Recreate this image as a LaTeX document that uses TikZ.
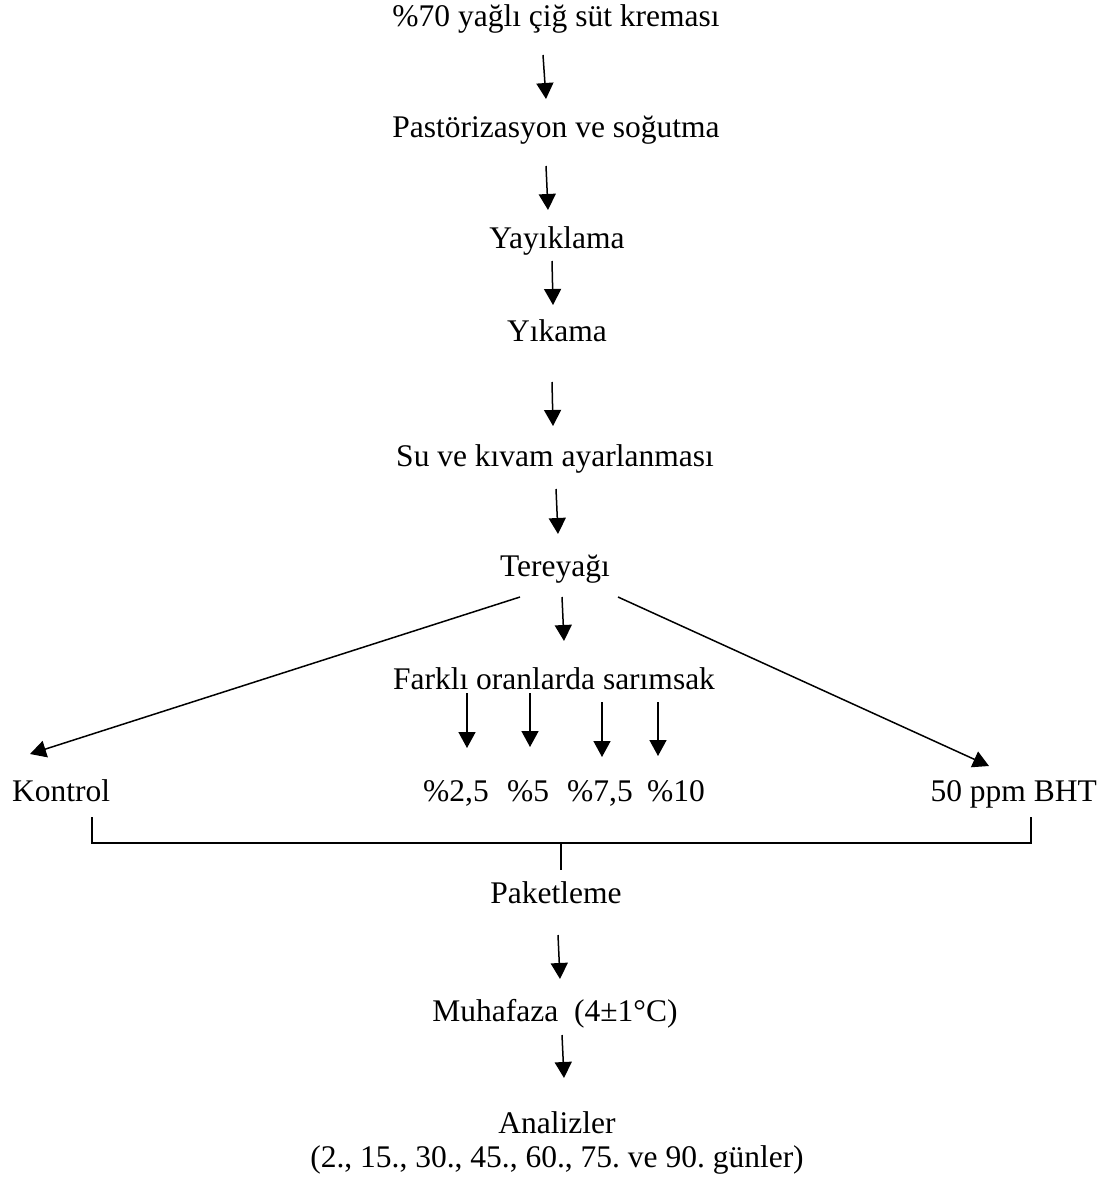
\documentclass[tikz,border=0pt]{standalone}
\usepackage{fontspec}
\setmainfont{Liberation Serif}
\usetikzlibrary{arrows.meta}
\begin{document}
\frenchspacing
\begin{tikzpicture}[x=1pt,y=-1pt,
  lbl/.style={anchor=base,inner sep=0pt,font=\fontsize{31.5}{36}\selectfont},
  arr/.style={line width=1.5pt,-{Triangle[length=16pt,width=17pt]}},
  ln/.style={line width=1.5pt}]
\useasboundingbox[fill=white] (0,0) rectangle (1112,1180);
% text nodes
\node[lbl] (title) at (556,27) {\%70 yağlı çiğ süt kreması};
\node[lbl] (past) at (556,137) {Pastörizasyon ve soğutma};
\node[lbl] (yayik) at (557,248) {Yayıklama};
\node[lbl] (yika) at (557,341) {Yıkama};
\node[lbl] (su) at (555,466) {Su ve kıvam ayarlanması};
\node[lbl] (tere) at (555,576) {Tereyağı};
\node[lbl] (fark) at (554,689) {Farklı oranlarda sarımsak};
\node[lbl,anchor=base west] (kont) at (12,801) {Kontrol};
\node[lbl] (p25) at (456,801) {\%2,5};
\node[lbl] (p5) at (528,801) {\%5};
\node[lbl] (p75) at (600,801) {\%7,5};
\node[lbl] (p10) at (676,801) {\%10};
\node[lbl,anchor=base east] (bht) at (1097,801) {50 ppm BHT};
\node[lbl] (paket) at (556,903) {Paketleme};
\node[lbl] (muha) at (555,1021) {Muhafaza\ \ (4±1°C)};
\node[lbl] (anal) at (557,1133) {Analizler};
\node[lbl] (gun) at (557,1167) {(2., 15., 30., 45., 60., 75. ve 90. günler)};
% arrow end points
\coordinate (a1s) at (543,55);   \coordinate (a1e) at (546,99);
\coordinate (a2s) at (546,166);  \coordinate (a2e) at (548,210);
\coordinate (a3s) at (552,261);  \coordinate (a3e) at (553,305);
\coordinate (a4s) at (552,382);  \coordinate (a4e) at (553,426);
\coordinate (a5s) at (556,489);  \coordinate (a5e) at (558,534);
\coordinate (tl) at (520,597);   \coordinate (kt) at (30,754);
\coordinate (tr) at (618,597);   \coordinate (bt) at (989,766);
\coordinate (tc) at (562,597);   \coordinate (fc) at (564,641);
\coordinate (s1) at (467,693);   \coordinate (e1) at (467,748);
\coordinate (s2) at (530,693);   \coordinate (e2) at (530,747);
\coordinate (s3) at (602,702);   \coordinate (e3) at (602,757);
\coordinate (s4) at (658,702);   \coordinate (e4) at (658,756);
\coordinate (bl) at (92,817);    \coordinate (br) at (1031,817);
\coordinate (stemt) at (561,843); \coordinate (stemb) at (561,870);
\coordinate (a6s) at (558,935);  \coordinate (a6e) at (560,979);
\coordinate (a7s) at (562,1035); \coordinate (a7e) at (564,1078);
% connectors
\draw[arr] (a1s) -- (a1e);
\draw[arr] (a2s) -- (a2e);
\draw[arr] (a3s) -- (a3e);
\draw[arr] (a4s) -- (a4e);
\draw[arr] (a5s) -- (a5e);
\draw[arr] (tl) -- (kt);
\draw[arr] (tr) -- (bt);
\draw[arr] (tc) -- (fc);
\draw[arr] (s1) -- (e1);
\draw[arr] (s2) -- (e2);
\draw[arr] (s3) -- (e3);
\draw[arr] (s4) -- (e4);
\draw[ln] (bl) |- (stemt) -| (br);
\draw[ln] (stemt) -- (stemb);
\draw[arr] (a6s) -- (a6e);
\draw[arr] (a7s) -- (a7e);
\end{tikzpicture}
\end{document}
